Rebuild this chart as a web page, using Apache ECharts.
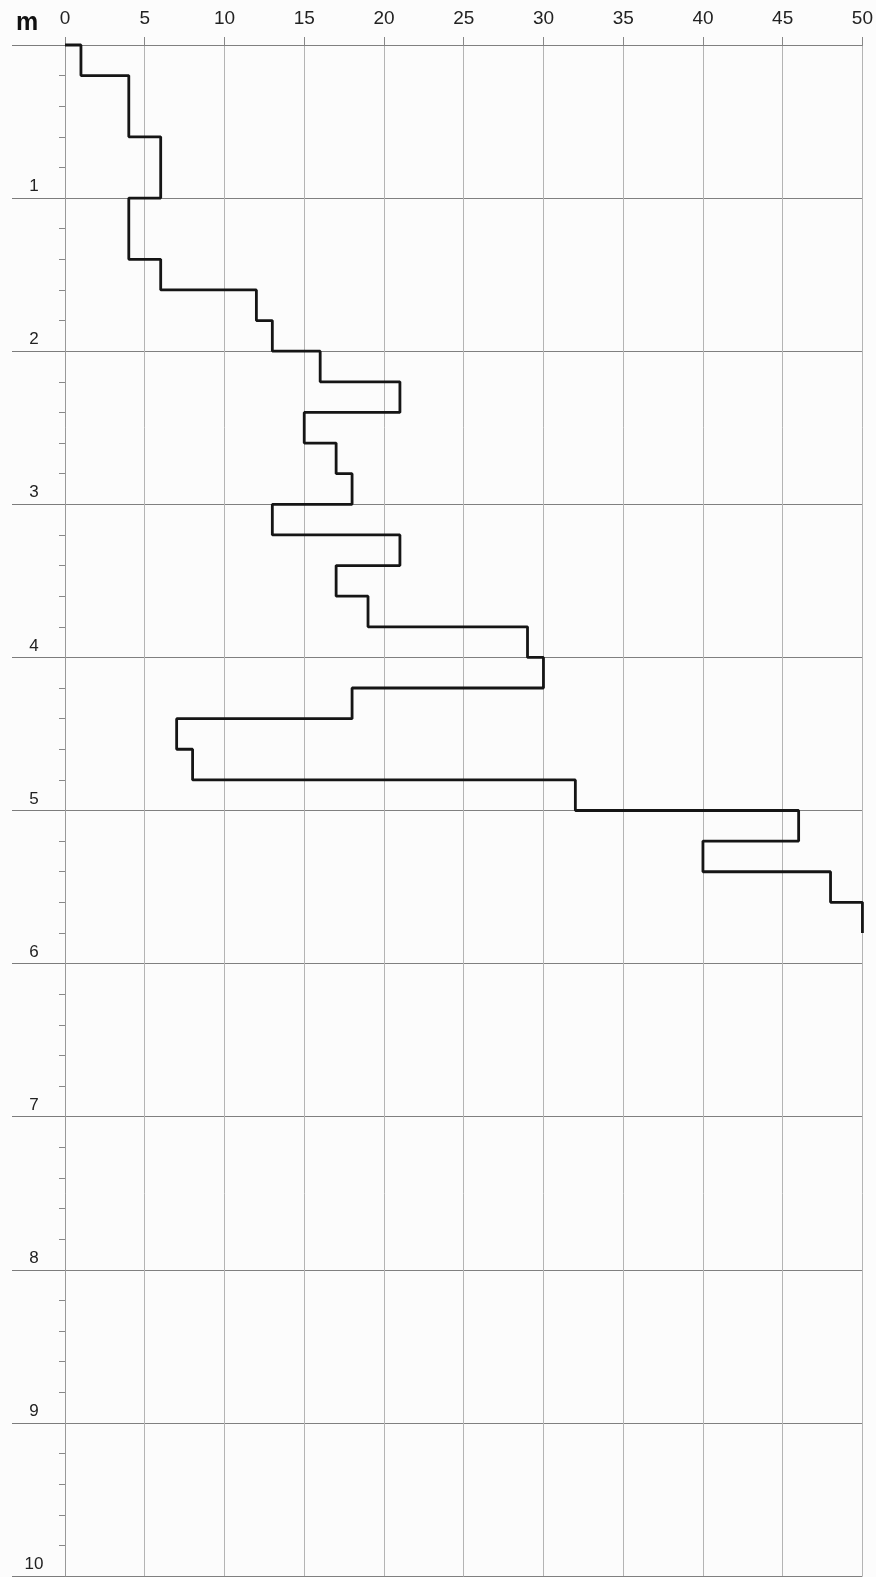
<!DOCTYPE html>
<html>
<head>
<meta charset="utf-8">
<script src="https://cdn.jsdelivr.net/npm/echarts@6/dist/echarts.min.js"></script>
<style>
html,body{margin:0;padding:0;background:#fcfcfc;}
#c{width:876px;height:1577px;}
</style>
</head>
<body>
<div id="c"></div>
<script>
// Depth interval boundaries (m) and blow counts per 0.2 m interval
const depthBounds = [0,0.2,0.4,0.6,0.8,1.0,1.2,1.4,1.6,1.8,2.0,2.2,2.4,2.6,2.8,3.0,3.2,3.4,3.6,3.8,4.0,4.2,4.4,4.6,4.8,5.0,5.2,5.4,5.6,5.8];
const blows = [1,4,4,6,6,4,4,6,12,13,16,21,15,17,18,13,21,17,19,29,30,18,7,8,32,46,40,48,50];
const xTicks = [0,5,10,15,20,25,30,35,40,45,50];
const yTicks = [0,1,2,3,4,5,6,7,8,9,10];

// build step outline from the arrays
const pts = [[0, depthBounds[0]]];
for (let i = 0; i < blows.length; i++) {
  pts.push([blows[i], depthBounds[i]]);
  pts.push([blows[i], depthBounds[i + 1]]);
}

const chart = echarts.init(document.getElementById('c'), null, {renderer: 'canvas'});
chart.setOption({
  backgroundColor: '#fcfcfc',
  animation: false,
  title: {
    text: 'm', left: 11, top: 6,
    textStyle: {fontFamily: 'Liberation Sans, Arial', fontWeight: 'bold', fontSize: 25, color: '#111'}
  },
  grid: {left: 65, right: 11, top: 45, bottom: 1, containLabel: false},
  xAxis: {
    type: 'value', position: 'top', min: xTicks[0], max: xTicks[xTicks.length - 1], interval: 5,
    axisLine: {show: true, lineStyle: {color: '#808080', width: 1}},
    axisTick: {show: true, length: 8, lineStyle: {color: '#888'}},
    axisLabel: {
      margin: 17, color: '#222', fontSize: 19, fontFamily: 'Liberation Sans, Arial',
      formatter: v => xTicks.includes(v) ? String(v) : ''
    },
    splitLine: {show: true, lineStyle: {color: '#b4b4b4', width: 1}}
  },
  yAxis: {
    type: 'value', inverse: true, min: yTicks[0], max: yTicks[yTicks.length - 1], interval: 1,
    axisLine: {show: true, lineStyle: {color: '#999', width: 1}},
    axisTick: {show: true, length: 53, lineStyle: {color: '#7c7c7c', width: 1}},
    minorTick: {show: true, splitNumber: 5, length: 6, lineStyle: {color: '#888', width: 1}},
    axisLabel: {
      margin: 31, align: 'center', verticalAlign: 'bottom', padding: [0, 0, 3, 0],
      color: '#222', fontSize: 17, fontFamily: 'Liberation Sans, Arial',
      formatter: v => (v === 0 ? '' : String(v))
    },
    splitLine: {show: true, lineStyle: {color: '#808080', width: 1}}
  },
  series: [{
    type: 'line', data: pts, showSymbol: false, symbol: 'none',
    lineStyle: {color: '#151515', width: 2.8}, clip: false
  }]
});
</script>
</body>
</html>
